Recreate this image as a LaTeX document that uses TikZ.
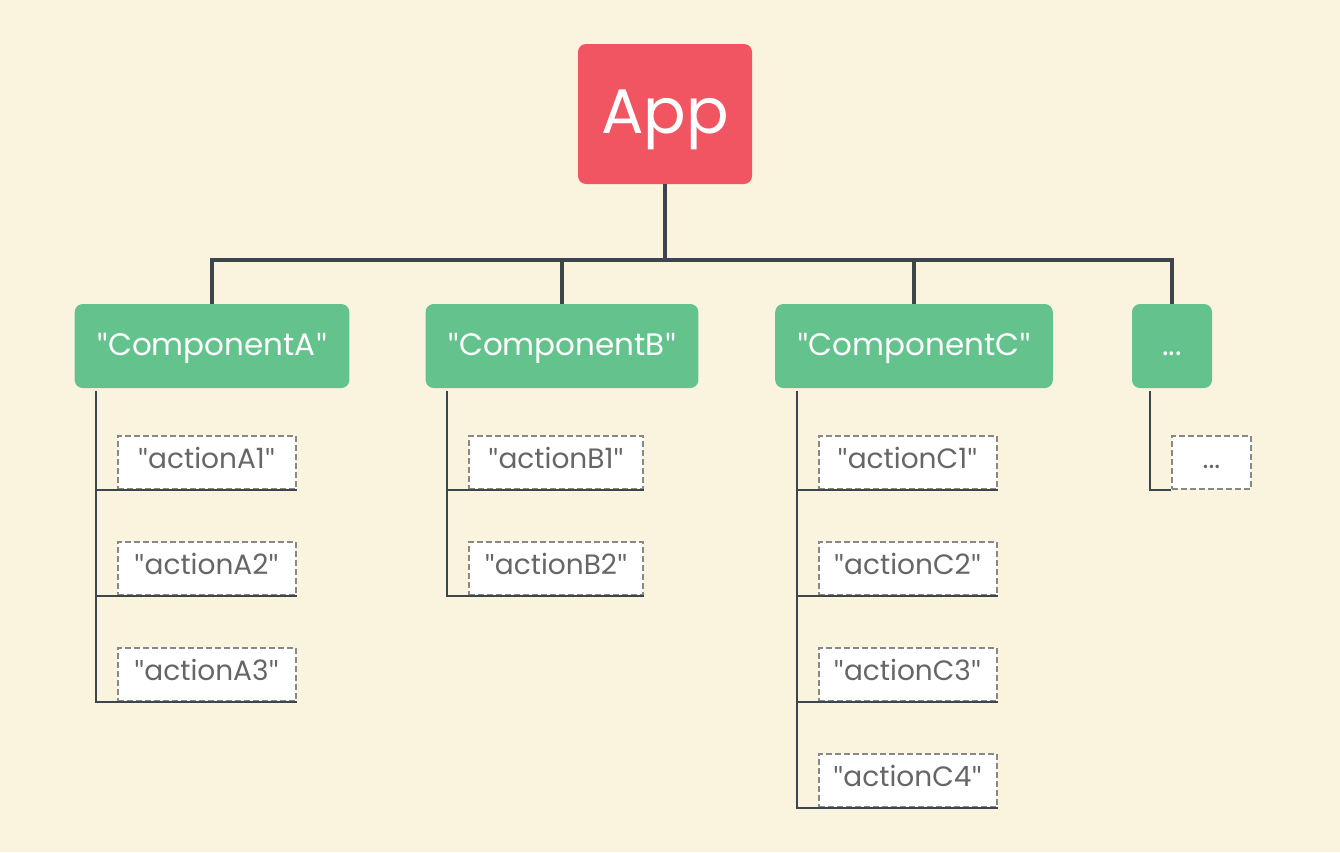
\documentclass[tikz,border=0pt]{standalone}
\usepackage{fontspec}
\setmainfont{Poppins}
\newfontfamily\quotefont{Lato}
\newcommand\qmark{{\quotefont"}}
\usetikzlibrary{positioning}
\definecolor{paper}{HTML}{FAF4DE}
\definecolor{appred}{HTML}{F25562}
\definecolor{compgreen}{HTML}{64C28D}
\definecolor{wire}{HTML}{3D464D}
\definecolor{dashgray}{HTML}{888888}
\definecolor{acttext}{HTML}{666666}

\begin{document}
\begin{tikzpicture}[x=1pt,y=-1pt,node distance=106pt,
  app node/.style={rectangle,rounded corners=8pt,fill=appred,text=white,
    minimum width=174pt,minimum height=140pt,text height=46pt,text depth=8pt,
    font=\fontsize{63}{63}\selectfont},
  comp node/.style={rectangle,rounded corners=8pt,fill=compgreen,text=white,
    minimum height=84pt,minimum width=80pt,inner xsep=22pt,text height=22pt,text depth=4pt,
    font=\fontsize{31}{31}\selectfont},
  action node/.style={rectangle,draw=dashgray,dash pattern=on 6pt off 3pt,line width=2pt,
    fill=white,text=acttext,minimum height=53pt,minimum width=178pt,text height=20pt,text depth=8pt,
    font=\fontsize{28}{28}\selectfont},
  tree/.style={draw=wire,line width=4pt},
  leaf/.style={draw=wire,line width=2pt}]
  \fill[paper] (0,0) rectangle (1340,852);
  \useasboundingbox (0,0) rectangle (1340,852);

  \node[app node] (app) at (665,114) {App};

  \node[comp node] (compA) at (212,346) {\qmark ComponentA\qmark};
  \node[comp node] (compB) at (562,346) {\qmark ComponentB\qmark};
  \node[comp node] (compC) at (914,346) {\qmark ComponentC\qmark};
  \node[comp node] (compD) at (1172,346) {...};

  \node[action node] (actA1) at (206.5,462.5) {\qmark actionA1\qmark};
  \node[action node] (actA2) [below of=actA1] {\qmark actionA2\qmark};
  \node[action node] (actA3) [below of=actA2] {\qmark actionA3\qmark};

  \node[action node,minimum width=174pt] (actB1) at (556,462.5) {\qmark actionB1\qmark};
  \node[action node,minimum width=174pt] (actB2) [below of=actB1] {\qmark actionB2\qmark};

  \node[action node] (actC1) at (907.5,462.5) {\qmark actionC1\qmark};
  \node[action node] (actC2) [below of=actC1] {\qmark actionC2\qmark};
  \node[action node] (actC3) [below of=actC2] {\qmark actionC3\qmark};
  \node[action node] (actC4) [below of=actC3] {\qmark actionC4\qmark};

  \node[action node,minimum width=79pt] (actD1) at (1211.5,462.5) {...};

  % app to components
  \coordinate (hub) at (665,260);
  \path[tree] (app.south) -- (hub);
  \path[tree] (compA.north) |- (hub) -| (compD.north);
  \path[tree] (compB.north) -- (compB.north |- hub);
  \path[tree] (compC.north) -- (compC.north |- hub);

  % component trunks
  \coordinate (trunkA) at ([xshift=-21pt]actA1.west |- compA.south);
  \coordinate (trunkB) at ([xshift=-21pt]actB1.west |- compB.south);
  \coordinate (trunkC) at ([xshift=-21pt]actC1.west |- compC.south);
  \coordinate (trunkD) at ([xshift=-21pt]actD1.west |- compD.south);
  \path[leaf] ([yshift=-3pt]trunkA) |- (actA3.south east);
  \path[leaf] ([yshift=-3pt]trunkB) |- (actB2.south east);
  \path[leaf] ([yshift=-3pt]trunkC) |- (actC4.south east);
  \path[leaf] ([yshift=-3pt]trunkD) |- (actD1.south west);
  \foreach \a in {A1,A2}
    \path[leaf] (act\a.south east) -- (act\a.south east -| trunkA);
  \path[leaf] (actB1.south east) -- (actB1.south east -| trunkB);
  \foreach \a in {C1,C2,C3}
    \path[leaf] (act\a.south east) -- (act\a.south east -| trunkC);
\end{tikzpicture}
\end{document}
